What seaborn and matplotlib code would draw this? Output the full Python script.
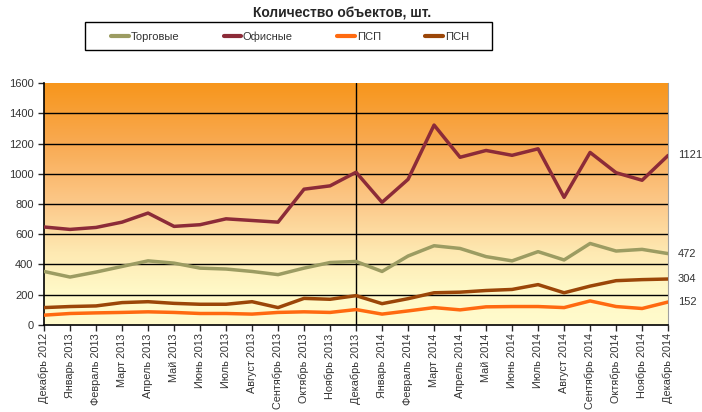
import numpy as np
import pandas as pd
import matplotlib
matplotlib.use("Agg")
import matplotlib.pyplot as plt
from matplotlib.colors import LinearSegmentedColormap
from matplotlib.patches import Rectangle
import seaborn as sns

months = ["Декабрь 2012", "Январь 2013", "Февраль 2013", "Март 2013", "Апрель 2013",
          "Май 2013", "Июнь 2013", "Июль 2013", "Август 2013", "Сентябрь 2013",
          "Октябрь 2013", "Ноябрь 2013", "Декабрь 2013", "Январь 2014", "Февраль 2014",
          "Март 2014", "Апрель 2014", "Май 2014", "Июнь 2014", "Июль 2014",
          "Август 2014", "Сентябрь 2014", "Октябрь 2014", "Ноябрь 2014", "Декабрь 2014"]

torgovye = [354, 317, 350, 387, 424, 409, 376, 370, 354, 333, 376, 413, 420,
            354, 456, 524, 506, 452, 424, 485, 430, 539, 489, 500, 472]
ofisnye = [648, 632, 645, 680, 740, 652, 663, 702, 691, 680, 898, 920, 1010,
           811, 963, 1322, 1109, 1154, 1122, 1165, 844, 1141, 1007, 957, 1121]
psp = [65, 76, 80, 83, 87, 83, 76, 76, 72, 83, 87, 83, 102,
       72, 93, 115, 100, 120, 122, 122, 115, 159, 122, 109, 152]
psn = [115, 122, 126, 148, 154, 143, 137, 137, 154, 115, 176, 170, 194,
       141, 174, 213, 217, 228, 235, 267, 213, 257, 293, 300, 304]

series = {"Торговые": torgovye, "Офисные": ofisnye, "ПСП": psp, "ПСН": psn}
colors = {"Торговые": "#9c9c62", "Офисные": "#8c2b38", "ПСП": "#ff6a10", "ПСН": "#9b4608"}

df = pd.concat([pd.DataFrame({"x": np.arange(len(months)), "value": v, "series": k})
                for k, v in series.items()])

sns.set_style("white")
plt.rcParams["font.family"] = ["Liberation Sans", "DejaVu Sans"]

fig = plt.figure(figsize=(7.02, 4.12), dpi=100)
ax = fig.add_axes([0.0627, 0.2112, 0.889, 0.5873])

# gradient background
bg = LinearSegmentedColormap.from_list("bg", [(0, "#fffbcc"), (0.15, "#fff8c6"), (0.3, "#fee9b2"),
                                              (0.5, "#fcc98a"), (0.75, "#f9aa52"), (1, "#f7961c")])
grad = np.linspace(0, 1, 256).reshape(-1, 1)
ax.imshow(grad, cmap=bg, origin="lower", aspect="auto", extent=[0, 24, 0, 1600], zorder=0)

for y in range(200, 1600, 200):
    ax.axhline(y, color="black", lw=1.0, zorder=1)
ax.axvline(12, color="black", lw=1.0, zorder=1)

sns.lineplot(data=df, x="x", y="value", hue="series", palette=colors, linewidth=2.5,
             legend=False, ax=ax, zorder=3, solid_joinstyle="round", solid_capstyle="round")

for k, v in series.items():
    ax.annotate(str(v[-1]), xy=(24, v[-1]), xytext=(7, 0), textcoords="offset points",
                va="center", ha="left", fontsize=8, color="#333333", annotation_clip=False)

ax.set_xlim(0, 24)
ax.set_ylim(0, 1600)
ax.set_yticks(range(0, 1601, 200))
ax.set_xticks(range(len(months)))
ax.set_xticklabels(months, rotation=90, fontsize=7.8, color="#333333")
ax.tick_params(axis="y", labelsize=8, labelcolor="#333333", length=4, width=1, direction="out", left=True)
ax.tick_params(axis="x", length=4, width=1, direction="out", bottom=True, pad=2)
ax.set_xlabel("")
ax.set_ylabel("")
for side in ["left", "bottom"]:
    ax.spines[side].set_color("black")
    ax.spines[side].set_linewidth(1.2)
ax.spines["top"].set_visible(False)
ax.spines["right"].set_color("#a0a0a0")

# legend box
W, H = 702, 412
fig.patches.append(Rectangle((85 / W, 1 - 50 / H), 407 / W, 28 / H, transform=fig.transFigure,
                             fill=False, edgecolor="black", lw=1.0))
handles = [plt.Line2D([], [], color=colors[k], lw=3) for k in series]
leg = fig.legend(handles, list(series.keys()), ncol=4, loc="center",
                 bbox_to_anchor=(290 / W, 1 - 37 / H), fontsize=8, frameon=False,
                 handlelength=1.6, handletextpad=0.15, columnspacing=4.0)
for t in leg.get_texts():
    t.set_color("#333333")

fig.text(342 / W, 1 - 14 / H, "Количество объектов, шт.", ha="center", va="center",
         fontsize=10, fontweight="bold")

fig.savefig("out.png", dpi=100, facecolor="white")
